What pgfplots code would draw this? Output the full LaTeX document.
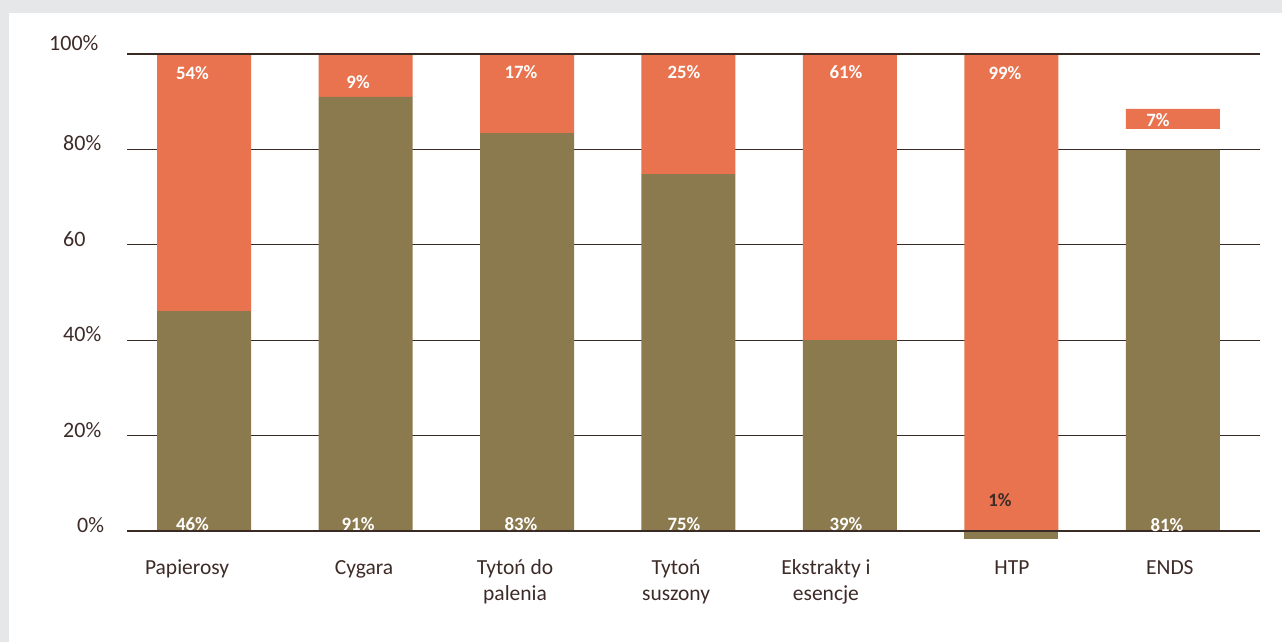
\documentclass[border=0pt]{standalone}
\usepackage{pgfplots}
\pgfplotsset{compat=1.18}
\usepackage{fontspec}
\setmainfont{Carlito}
\definecolor{bgray}{HTML}{E6E7E9}
\definecolor{orng}{HTML}{E8734E}
\definecolor{brwn}{HTML}{8C7A4F}
\definecolor{txt}{HTML}{3D2B27}
\definecolor{gridd}{HTML}{3A2A24}
\definecolor{gridl}{HTML}{8E8580}
\pgfplotsset{geom/.style={at={(127pt,-554.85pt)}, anchor=south west,
 scale only axis, width=1133pt, height=500.85pt,
 xmin=-0.477, xmax=6.539, ymin=-5, ymax=100, clip=false}}
\begin{document}
\begin{tikzpicture}[lbl/.style={font=\bfseries\fontsize{18.8}{20}\selectfont, text=white, inner sep=0pt, anchor=center}]
\fill[bgray] (0,0) rectangle (1282pt,-642pt);
\fill[white] (9pt,-13pt) rectangle (1282pt,-642pt);
\begin{axis}[
 geom,
 ybar stacked, bar width=94pt,
 axis line style={draw=none},
 major tick length=0pt,
 ytick={0,40,60,100},
 yticklabels={\hspace*{14pt}0\%,40\%,60,\raisebox{10pt}{\hspace*{-14pt}100\%}},
 extra y ticks={20,80},
 extra y tick labels={20\%,80\%},
 extra y tick style={grid style={gridl, line width=1.3pt}},
 ymajorgrids, major grid style={gridd, line width=1.3pt},
 xtick={-0.105,0.991,1.926,2.923,3.851,5.003,5.981},
 xticklabels={{\rule{0pt}{16pt}Papierosy},{\rule{0pt}{16pt}Cygara},{\rule{0pt}{16pt}Tytoń do\\palenia},{\rule{0pt}{16pt}Tytoń\\suszony},{\rule{0pt}{16pt}Ekstrakty i\\esencje},{\rule{0pt}{16pt}HTP},{\rule{0pt}{16pt}ENDS}},
 xticklabel style={align=center, font=\fontsize{21.5}{25.5}\selectfont, text=txt, anchor=north, inner sep=0pt, yshift=-3.6pt},
 yticklabel style={anchor=west, inner sep=0pt, xshift=-64pt, yshift=6pt, font=\fontsize{22}{24}\selectfont, text=txt},
]
\addplot[fill=brwn, draw=none] coordinates {(0,46.1) (1,91) (2,83.4) (3,74.8) (4,40) (5,0) (6,79.9)};
\addplot[fill=none, draw=none] coordinates {(0,0) (1,0) (2,0) (3,0) (4,0) (5,0) (6,4.4)};
\addplot[fill=orng, draw=none] coordinates {(0,53.9) (1,9) (2,16.6) (3,25.2) (4,60) (5,100) (6,4.2)};
\end{axis}
\begin{axis}[geom, hide axis]
\addplot[ybar, bar width=94pt, fill=brwn, draw=none] coordinates {(5,-1.6)};
\draw[gridd, line width=1.3pt] (axis cs:-0.477,100) -- (axis cs:6.539,100);
\draw[gridd, line width=1.3pt] (axis cs:-0.477,0) -- (axis cs:6.539,0);
\node[lbl] at (axis cs:-0.071,96) {54\%};
\node[lbl] at (axis cs:0.954,94.1) {9\%};
\node[lbl] at (axis cs:1.963,96.2) {17\%};
\node[lbl] at (axis cs:2.972,96.2) {25\%};
\node[lbl] at (axis cs:3.975,96.2) {61\%};
\node[lbl] at (axis cs:4.960,96) {99\%};
\node[lbl] at (axis cs:5.907,86.2) {7\%};
\node[lbl] at (axis cs:-0.071,1.5) {46\%};
\node[lbl] at (axis cs:0.954,1.5) {91\%};
\node[lbl] at (axis cs:1.963,1.5) {83\%};
\node[lbl] at (axis cs:2.972,1.5) {75\%};
\node[lbl] at (axis cs:3.975,1.5) {39\%};
\node[lbl, text=txt] at (axis cs:4.929,6.5) {1\%};
\node[lbl] at (axis cs:5.963,1.3) {81\%};
\end{axis}
\end{tikzpicture}
\end{document}
